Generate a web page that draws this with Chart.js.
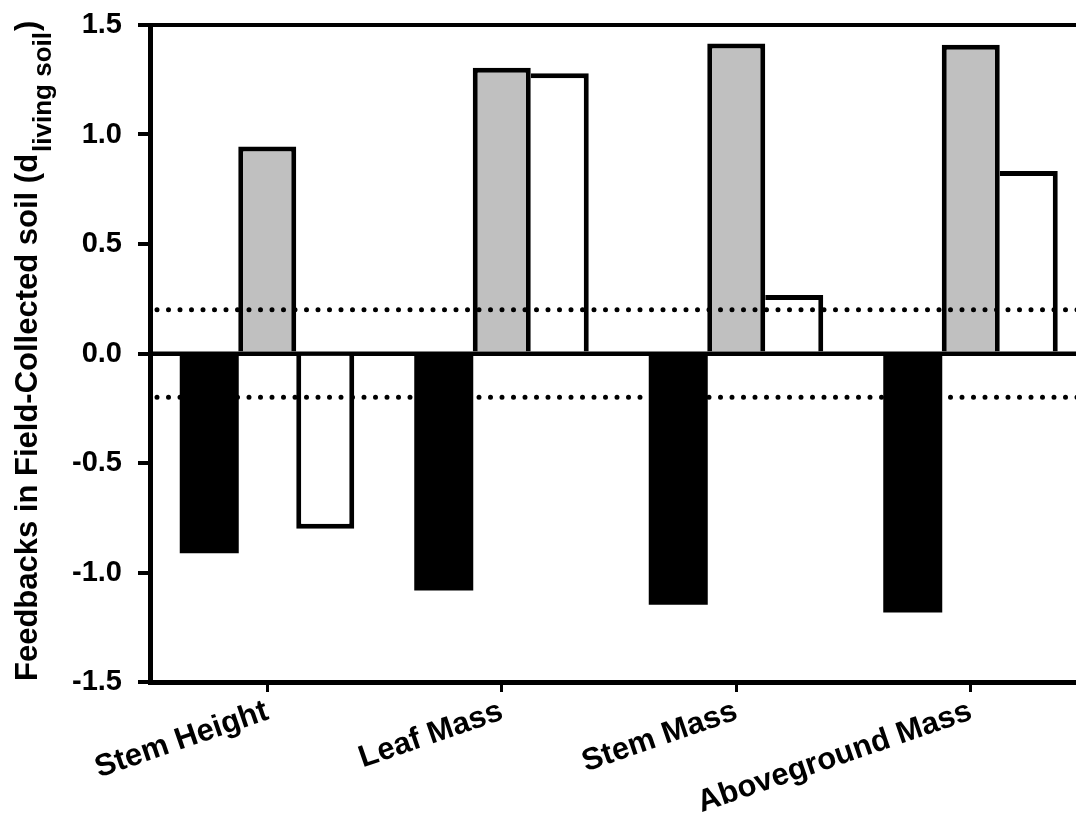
<!DOCTYPE html>
<html>
<head>
<meta charset="utf-8">
<script src="https://cdn.jsdelivr.net/npm/chart.js@4.4.1/dist/chart.umd.min.js"></script>
<style>
  html, body { margin: 0; padding: 0; background: #fff; overflow: hidden; }
  #wrap { position: relative; width: 1100px; height: 819px; }
</style>
</head>
<body>
<div id="wrap"><canvas id="c"></canvas></div>
<script>
// ---- data ----
const categories = ["Stem Height", "Leaf Mass", "Stem Mass", "Aboveground Mass"];
const seriesBlack = [-0.91, -1.08, -1.145, -1.18];
const seriesGray  = [0.945, 1.305, 1.415, 1.41];
const seriesWhite = [-0.80, 1.28, 0.267, 0.833];
const yTickValues = [-1.5, -1.0, -0.5, 0.0, 0.5, 1.0, 1.5];
const yTickLabels = ["-1.5", "-1.0", "-0.5", "0.0", "0.5", "1.0", "1.5"];
const refLines = [0.2, -0.2];
const zeroLine = 0;
const yTitleMain = "Feedbacks in Field-Collected soil (d";
const yTitleSub = "living soil";
const yTitleEnd = ")";

const FONT = "'Liberation Sans', Arial, Helvetica, sans-serif";
const BW = 5;

const refLinePlugin = {
  id: 'refLines',
  afterDatasetsDraw(chart) {
    const {ctx, chartArea, scales} = chart;
    ctx.save();
    // solid zero line over the bar bases
    ctx.strokeStyle = '#000';
    ctx.lineWidth = 4;
    ctx.lineCap = 'butt';
    const y0 = scales.y.getPixelForValue(zeroLine);
    ctx.beginPath();
    ctx.moveTo(chartArea.left, y0);
    ctx.lineTo(chartArea.right, y0);
    ctx.stroke();
    // dotted reference lines
    ctx.lineWidth = 5;
    ctx.lineCap = 'round';
    ctx.setLineDash([0, 11.5]);
    refLines.forEach(v => {
      const y = scales.y.getPixelForValue(v);
      ctx.beginPath();
      ctx.moveTo(chartArea.left + 7, y);
      ctx.lineTo(chartArea.right, y);
      ctx.stroke();
    });
    ctx.restore();
  }
};

const yTitlePlugin = {
  id: 'yTitle',
  afterDraw(chart) {
    const {ctx, chartArea} = chart;
    ctx.save();
    ctx.fillStyle = '#000';
    ctx.translate(37, chartArea.bottom - 1);
    ctx.rotate(-Math.PI / 2);
    ctx.textAlign = 'left';
    ctx.textBaseline = 'alphabetic';
    ctx.font = "bold 31px " + FONT;
    ctx.fillText(yTitleMain, 0, 0);
    let x = ctx.measureText(yTitleMain).width + 2;
    ctx.font = "bold 26px " + FONT;
    ctx.fillText(yTitleSub, x, 14);
    x += ctx.measureText(yTitleSub).width + 1;
    ctx.font = "bold 31px " + FONT;
    ctx.fillText(yTitleEnd, x, 0);
    ctx.restore();
  }
};

// adjacent gray/white bars of the same sign share one edge line; base edge is the zero line
const sameSign = (i) => (seriesGray[i] >= 0) === (seriesWhite[i] >= 0);
const grayTaller = (i) => Math.abs(seriesGray[i]) >= Math.abs(seriesWhite[i]);
const grayBorder = (c) => {
  const i = c.dataIndex, pos = seriesGray[i] >= 0;
  return { top: pos ? BW : 0, bottom: pos ? 0 : BW, left: BW, right: (sameSign(i) && !grayTaller(i)) ? 0 : BW };
};
const whiteBorder = (c) => {
  const i = c.dataIndex, pos = seriesWhite[i] >= 0;
  return { top: pos ? BW : 0, bottom: pos ? 0 : BW, right: BW, left: (sameSign(i) && grayTaller(i)) ? 0 : BW };
};

new Chart(document.getElementById('c'), {
  type: 'bar',
  data: {
    labels: categories,
    datasets: [
      { data: seriesBlack, backgroundColor: '#000000', borderWidth: 0, inflateAmount: 0.5 },
      { data: seriesGray,  backgroundColor: '#c0c0c0', borderColor: '#000', borderWidth: grayBorder, borderSkipped: false, inflateAmount: 0 },
      { data: seriesWhite, backgroundColor: '#ffffff', borderColor: '#000', borderWidth: whiteBorder, borderSkipped: false, inflateAmount: 0 }
    ]
  },
  options: {
    responsive: true,
    maintainAspectRatio: false,
    animation: false,
    devicePixelRatio: 1,
    layout: { padding: { top: 25, right: 12, left: 0, bottom: 0 } },
    datasets: { bar: { categoryPercentage: 0.742, barPercentage: 1.0 } },
    plugins: { legend: { display: false }, tooltip: { enabled: false } },
    scales: {
      x: {
        grid: { display: true, offset: false, drawOnChartArea: false, drawTicks: true, tickLength: 10, color: '#000', lineWidth: 3 },
        border: { display: true, color: '#000', width: 5 },
        ticks: {
          color: '#000', padding: 1, minRotation: 19, maxRotation: 19, autoSkip: false,
          font: { family: FONT, size: 31, weight: 'bold' }
        },
        afterFit(scale) { scale.height = 137; scale.paddingLeft = 0; scale.paddingRight = 0; }
      },
      y: {
        min: -1.5, max: 1.5,
        afterBuildTicks(scale) { scale.ticks = yTickValues.map(v => ({ value: v })); },
        grid: {
          drawOnChartArea: true, drawTicks: true, tickLength: 12,
          color: c => (c.tick && (c.tick.value === 1.5 || c.tick.value === 0)) ? '#000' : 'rgba(0,0,0,0)',
          lineWidth: 4, tickColor: '#000', tickWidth: 4
        },
        border: { display: true, color: '#000', width: 5 },
        ticks: {
          color: '#000', padding: 16,
          font: { family: FONT, size: 29, weight: 'bold' },
          callback: (v) => yTickLabels[yTickValues.indexOf(v)]
        },
        afterFit(scale) { scale.width = 150; scale.paddingTop = 0; scale.paddingBottom = 0; }
      }
    }
  },
  plugins: [refLinePlugin, yTitlePlugin]
});
</script>
</body>
</html>
